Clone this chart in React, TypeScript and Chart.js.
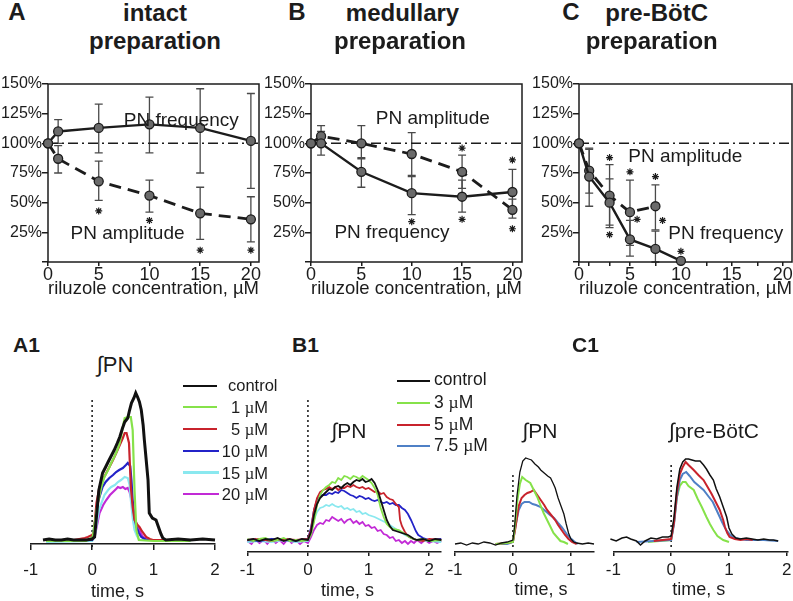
import React, { useEffect, useRef } from "react";
import { Chart, registerables } from "chart.js";
Chart.register(...registerables);

const FONT = "'Liberation Sans', Arial, Helvetica, sans-serif";
const INK = "#1c1c1c";
Chart.defaults.font.family = FONT;
Chart.defaults.color = INK;

type Pt = [number, number];

// ---------------- Dose-response data (percent of control) ----------------
const yTickValues = [0, 25, 50, 75, 100, 125, 150];

const concA = [0, 1, 5, 10, 15, 20];
const freqA = [100, 110, 113, 116, 113, 102];
const freqALo = [null, 100, 92, 92, 75, 62];
const freqAHi = [null, 120, 133, 139, 146, 142];
const ampA = [100, 87, 68, 56, 41, 36];
const ampALo = [null, 75, 52, 42, 19, 17];
const ampAHi = [null, 98, 85, 69, 63, 55];
const starsA: Pt[] = [[5, 43], [10, 35], [15, 10], [20, 10]];

const concB = [0, 1, 5, 10, 15, 20];
const freqB = [100, 100, 76, 58, 55, 59];
const freqBLo = [null, 90, 63, 40, 42, 42];
const freqBHi = [null, 110, 88, 72, 69, 78];
const ampB = [100, 106, 100, 91, 76, 44];
const ampBLo = [null, 98, 87, 73, 62, 37];
const ampBHi = [null, 115, 115, 109, 90, 53];
const starsB: Pt[] = [[10, 34], [15, 96], [15, 36], [20, 86], [20, 28]];

const concCf = [0, 1, 3, 5, 7.5, 10];
const freqC = [100, 72, 50, 19, 11, 1];
const freqCLo = [null, 47, 29, 5, 0, null];
const freqCHi = [null, 96, 70, 35, 26, null];
const concCa = [0, 1, 3, 5, 7.5];
const ampC = [100, 77, 56, 42, 47];
const ampCLo = [null, 58, 31, 14, 27];
const ampCHi = [null, 95, 82, 69, 65];
const starsC: Pt[] = [[3, 88], [3, 23], [5, 76], [5.7, 36], [7.5, 72], [8.2, 35], [10, 9]];

const xTicksAB = [0, 5, 10, 15, 20];
const xTicksC = [0, 1, 3, 5, 7.5, 10, 12.5, 15, 17.5, 20];

// ---------------- Integrated PN / pre-BötC traces (time s, a.u.) ----------------
const a1Control: Pt[] = [[-0.8,0],[-0.7,1],[-0.6,0],[-0.5,0],[-0.4,1],[-0.3,0],[-0.2,0],[-0.1,0],[0,1],[0.04,3],[0.07,23],[0.11,50],[0.17,67],[0.22,73],[0.26,78],[0.31,84],[0.36,90],[0.41,97],[0.45,103],[0.49,111],[0.53,118],[0.58,122],[0.61,130],[0.64,137],[0.68,142],[0.71,147],[0.74,143],[0.77,138],[0.8,130],[0.83,115],[0.85,100],[0.88,80],[0.91,60],[0.93,27],[0.98,22],[1.04,20],[1.08,13],[1.12,6],[1.15,2],[1.2,0],[1.4,1],[1.6,0],[1.8,1],[2.0,0],[2.1,1]];
const a1Riluzole1: Pt[] = [[-0.75,-1],[-0.4,-1],[-0.1,-1],[0.01,3],[0.08,33],[0.15,53],[0.2,63],[0.26,70],[0.31,77],[0.36,83],[0.41,90],[0.45,97],[0.49,110],[0.53,122],[0.58,123],[0.63,123],[0.66,110],[0.69,50],[0.72,10],[0.76,0],[1.0,-1],[1.6,-1]];
const a1Riluzole5: Pt[] = [[-0.75,-1],[-0.3,0],[-0.12,2],[-0.07,3],[0,5],[0.03,8],[0.07,37],[0.12,53],[0.18,61],[0.23,67],[0.29,74],[0.34,80],[0.4,88],[0.45,95],[0.5,102],[0.53,107],[0.56,107],[0.6,97],[0.63,53],[0.66,33],[0.69,20],[0.74,15],[0.77,13],[0.82,8],[0.88,3],[0.94,1],[0.99,0],[1.3,0]];
const a1Riluzole10: Pt[] = [[-0.75,-1],[0,0],[0.02,7],[0.09,37],[0.17,53],[0.22,58],[0.28,62],[0.34,65],[0.39,68],[0.44,70],[0.5,72],[0.55,75],[0.58,77],[0.62,74],[0.64,60],[0.66,40],[0.69,22],[0.72,13],[0.76,7],[0.8,3],[0.88,0],[1.3,0]];
const a1Riluzole15: Pt[] = [[-0.75,-2],[0,-1],[0.04,3],[0.11,30],[0.2,45],[0.26,50],[0.31,53],[0.37,55],[0.42,58],[0.47,60],[0.53,63],[0.58,62],[0.61,55],[0.63,40],[0.66,22],[0.69,10],[0.73,4],[0.77,0],[1.6,-1]];
const a1Riluzole20: Pt[] = [[-0.75,-1],[0,0],[0.04,3],[0.12,27],[0.18,35],[0.23,40],[0.29,45],[0.34,48],[0.39,51],[0.42,53],[0.46,52],[0.5,53],[0.54,51],[0.58,52],[0.61,48],[0.63,43],[0.66,33],[0.69,23],[0.73,15],[0.77,10],[0.8,6],[0.83,3],[0.91,0],[1.1,0]];

const b1Control: Pt[] = [[-1,0],[-0.9,1],[-0.8,-1],[-0.7,1],[-0.6,0],[-0.5,2],[-0.4,-1],[-0.3,1],[-0.2,-1],[-0.1,1],[0,0],[0.05,8],[0.1,25],[0.15,36],[0.2,42],[0.25,45],[0.3,48],[0.35,51],[0.4,50],[0.45,53],[0.5,54],[0.55,52],[0.6,55],[0.65,57],[0.7,55],[0.75,58],[0.8,60],[0.85,59],[0.9,61],[0.95,58],[1.0,59],[1.05,61],[1.1,57],[1.15,50],[1.2,40],[1.25,30],[1.3,20],[1.35,14],[1.4,10],[1.45,9],[1.5,8],[1.55,7],[1.6,6],[1.65,5],[1.7,3],[1.75,1],[1.8,0],[1.9,1],[2.0,-1],[2.1,1],[2.2,0]];
const b1Riluzole1: Pt[] = [[-1,1],[-0.9,-1],[-0.8,1],[-0.7,2],[-0.6,-1],[-0.5,0],[-0.4,2],[-0.3,-1],[-0.2,0],[-0.1,-1],[0,0],[0.05,5],[0.1,18],[0.15,35],[0.2,45],[0.25,50],[0.3,53],[0.35,55],[0.4,58],[0.45,57],[0.5,62],[0.55,60],[0.6,64],[0.65,63],[0.7,61],[0.75,64],[0.8,63],[0.85,61],[0.9,64],[0.95,62],[1.0,60],[1.05,57],[1.1,52],[1.15,45],[1.2,32],[1.25,23],[1.3,16],[1.35,13],[1.4,11],[1.5,10],[1.6,6],[1.7,2],[1.8,0],[1.9,1],[2.0,-1],[2.2,0]];
const b1Riluzole5: Pt[] = [[-1,0],[-0.8,1],[-0.6,-1],[-0.4,1],[-0.2,0],[0,1],[0.05,10],[0.1,30],[0.15,42],[0.2,48],[0.25,50],[0.3,51],[0.35,53],[0.4,51],[0.45,53],[0.5,50],[0.55,52],[0.6,52],[0.65,54],[0.7,53],[0.75,55],[0.8,53],[0.85,52],[0.9,53],[0.95,51],[1.0,52],[1.05,50],[1.1,48],[1.15,49],[1.2,46],[1.25,47],[1.3,43],[1.35,41],[1.4,40],[1.45,36],[1.5,33],[1.52,20],[1.55,14],[1.6,8],[1.65,4],[1.7,2],[1.8,0],[1.9,-1],[2.0,1],[2.2,0]];
const b1Riluzole10: Pt[] = [[-1,0],[-0.8,-1],[-0.6,1],[-0.4,0],[-0.2,-1],[0,1],[0.05,12],[0.1,30],[0.15,40],[0.2,44],[0.25,45],[0.3,45],[0.35,47],[0.4,46],[0.45,48],[0.5,47],[0.55,50],[0.6,49],[0.65,47],[0.7,45],[0.75,44],[0.8,42],[0.85,44],[0.9,43],[0.95,41],[1.0,42],[1.05,40],[1.1,39],[1.15,40],[1.2,38],[1.25,37],[1.3,38],[1.35,36],[1.4,37],[1.45,35],[1.5,35],[1.55,32],[1.6,30],[1.65,26],[1.7,20],[1.73,16],[1.78,9],[1.82,5],[1.9,2],[2.0,0],[2.2,1]];
const b1Riluzole15: Pt[] = [[-1,-2],[-0.8,-1],[-0.6,-2],[-0.4,0],[-0.2,-2],[0,-1],[0.05,8],[0.1,20],[0.15,28],[0.2,32],[0.25,33],[0.3,35],[0.35,34],[0.4,36],[0.45,34],[0.5,33],[0.55,34],[0.6,31],[0.65,32],[0.7,30],[0.75,31],[0.8,28],[0.85,29],[0.9,26],[0.95,27],[1.0,25],[1.1,23],[1.2,20],[1.3,17],[1.4,13],[1.5,9],[1.6,5],[1.7,2],[1.8,0],[2.0,-1],[2.2,-2]];
const b1Riluzole20: Pt[] = [[-1,-1],[-0.93,-4],[-0.87,1],[-0.8,-3],[-0.73,0],[-0.67,-4],[-0.6,1],[-0.53,-3],[-0.47,0],[-0.4,-4],[-0.33,1],[-0.27,-3],[-0.2,0],[-0.13,-4],[-0.07,-1],[0,-3],[0.05,3],[0.1,10],[0.15,15],[0.2,17],[0.25,16],[0.3,20],[0.35,19],[0.4,23],[0.45,21],[0.5,19],[0.55,21],[0.6,17],[0.65,20],[0.7,21],[0.75,17],[0.8,19],[0.85,16],[0.9,18],[0.95,14],[1.0,15],[1.05,12],[1.1,13],[1.15,9],[1.2,10],[1.25,6],[1.3,5],[1.35,2],[1.4,3],[1.45,-1],[1.5,0],[1.55,-3],[1.6,-1],[1.65,-4],[1.7,-1],[1.75,-3],[1.8,0],[1.87,-3],[1.93,0],[2.0,-3],[2.07,-1],[2.13,-3],[2.2,-1]];

const c1PnControl: Pt[] = [[-1.0,0],[-0.9,1],[-0.8,-1],[-0.7,1],[-0.6,0],[-0.5,2],[-0.4,1],[-0.3,-1],[-0.2,1],[-0.1,2],[0,4],[0.03,18],[0.07,48],[0.12,72],[0.17,83],[0.22,86],[0.27,85],[0.32,84],[0.38,80],[0.44,77],[0.48,74],[0.54,71],[0.6,68],[0.65,66],[0.7,60],[0.73,56],[0.78,46],[0.83,38],[0.88,30],[0.92,20],[0.96,11],[1.0,5],[1.05,2],[1.1,1],[1.2,0],[1.3,1],[1.4,0]];
const c1PnRiluzole3: Pt[] = [[-0.3,0],[-0.1,1],[0,2],[0.03,15],[0.08,45],[0.12,60],[0.16,67],[0.22,64],[0.3,61],[0.36,54],[0.42,47],[0.48,38],[0.53,31],[0.59,24],[0.65,17],[0.7,11],[0.76,7],[0.82,3],[0.88,2],[0.95,0]];
const c1PnRiluzole5: Pt[] = [[-0.3,0],[-0.1,1],[0,2],[0.04,15],[0.1,38],[0.15,46],[0.2,49],[0.25,51],[0.3,52],[0.36,54],[0.42,49],[0.48,44],[0.54,39],[0.59,34],[0.66,29],[0.73,24],[0.78,19],[0.84,14],[0.9,9],[0.96,5],[1.02,2],[1.1,0]];
const c1PnRiluzole75: Pt[] = [[-0.3,0],[-0.1,0],[0,2],[0.05,20],[0.1,34],[0.15,40],[0.2,42],[0.28,42],[0.34,40],[0.4,39],[0.48,37],[0.56,33],[0.64,29],[0.71,26],[0.78,21],[0.84,17],[0.88,14],[0.94,9],[0.99,6],[1.05,3],[1.12,0]];

const c1PbcControl: Pt[] = [[-1.15,2],[-1.05,3],[-0.95,1],[-0.85,4],[-0.77,5],[-0.7,3],[-0.6,1],[-0.53,-3],[-0.45,1],[-0.35,4],[-0.25,3],[-0.15,5],[-0.05,5],[0,6],[0.05,25],[0.1,55],[0.15,73],[0.2,80],[0.25,83],[0.3,83],[0.36,82],[0.42,81],[0.5,81],[0.56,77],[0.61,73],[0.67,67],[0.73,62],[0.78,53],[0.84,45],[0.9,35],[0.96,25],[1.0,14],[1.05,8],[1.12,4],[1.19,3],[1.3,4],[1.4,3],[1.5,2],[1.6,3],[1.7,2],[1.77,2],[1.85,1]];
const c1PbcRiluzole3: Pt[] = [[-0.4,0],[-0.2,1],[0,2],[0.05,20],[0.1,45],[0.15,56],[0.2,60],[0.25,60],[0.3,56],[0.39,52],[0.46,43],[0.53,35],[0.61,25],[0.67,18],[0.73,12],[0.8,6],[0.9,2],[1.0,0]];
const c1PbcRiluzole5: Pt[] = [[-0.3,1],[0,3],[0.05,20],[0.1,50],[0.15,68],[0.2,75],[0.25,80],[0.3,77],[0.39,72],[0.47,67],[0.56,62],[0.63,55],[0.7,48],[0.77,40],[0.84,32],[0.9,22],[0.93,15],[0.97,9],[1.01,5],[1.1,3],[1.2,2],[1.3,3],[1.41,2]];
const c1PbcRiluzole75: Pt[] = [[-0.6,0],[-0.3,1],[0,2],[0.05,18],[0.1,45],[0.15,62],[0.2,68],[0.26,70],[0.32,66],[0.4,60],[0.48,56],[0.56,52],[0.64,46],[0.72,40],[0.8,30],[0.88,20],[0.95,12],[1.02,7],[1.1,4],[1.3,2],[1.6,2],[1.85,1]];

const timeTicks = [-1, 0, 1, 2];

const a1Labels = ["control", "1", "5", "10", "15", "20"];
const c1Labels = ["control", "3", "5", "7.5"];

const COL = {
  black: "#111111",
  lime: "#86e24a",
  red: "#c8232c",
  blue: "#2323c8",
  cyan: "#8ae8ef",
  magenta: "#c22ad6",
  steel: "#4f80c6",
};
const a1Colors = [COL.black, COL.lime, COL.red, COL.blue, COL.cyan, COL.magenta];
const c1Colors = [COL.black, COL.lime, COL.red, COL.steel];

// ---------------- plugins ----------------
const errorBars = {
  id: "errorBars",
  beforeDatasetsDraw(chart: any) {
    const { ctx } = chart;
    const xs = chart.scales.x;
    const ys = chart.scales.y;
    chart.data.datasets.forEach((ds: any) => {
      if (!ds.errLo) return;
      ctx.save();
      ctx.strokeStyle = "#4a4a4a";
      ctx.lineWidth = 1.3;
      ds.data.forEach((p: any, i: number) => {
        const lo = ds.errLo[i];
        const hi = ds.errHi[i];
        if (lo == null || hi == null) return;
        const px = xs.getPixelForValue(p.x);
        const y1 = ys.getPixelForValue(lo);
        const y2 = ys.getPixelForValue(hi);
        ctx.beginPath();
        ctx.moveTo(px, y1);
        ctx.lineTo(px, y2);
        ctx.moveTo(px - 4, y1);
        ctx.lineTo(px + 4, y1);
        ctx.moveTo(px - 4, y2);
        ctx.lineTo(px + 4, y2);
        ctx.stroke();
      });
      ctx.restore();
    });
  },
};

const frame = {
  id: "frame",
  beforeDatasetsDraw(chart: any) {
    const { ctx, chartArea } = chart;
    ctx.save();
    ctx.strokeStyle = INK;
    ctx.lineWidth = 1.5;
    ctx.strokeRect(chartArea.left, chartArea.top, chartArea.right - chartArea.left, chartArea.bottom - chartArea.top);
    ctx.restore();
  },
};

const toXY = (xs: number[], ys: number[]) => xs.map((x, i) => ({ x, y: ys[i] }));
const fromPts = (p: Pt[]) => p.map(([x, y]) => ({ x, y }));

function doseConfig(o: any) {
  return {
    type: "scatter",
    data: {
      datasets: [
        {
          label: "PN frequency",
          data: toXY(o.fx, o.f),
          errLo: o.fLo,
          errHi: o.fHi,
          showLine: true,
          borderColor: INK,
          borderWidth: 2.4,
          pointRadius: 4.5,
          pointBackgroundColor: "#6a6a6a",
          pointBorderColor: INK,
          pointBorderWidth: 1.3,
          clip: false,
        },
        {
          label: "PN amplitude",
          data: toXY(o.ax, o.a),
          errLo: o.aLo,
          errHi: o.aHi,
          showLine: true,
          borderColor: INK,
          borderWidth: 2.8,
          borderDash: [12, 7],
          pointRadius: 4.5,
          pointBackgroundColor: "#6a6a6a",
          pointBorderColor: INK,
          pointBorderWidth: 1.3,
          clip: false,
        },
        {
          label: "control level",
          data: [{ x: 0, y: 100 }, { x: o.xMax, y: 100 }],
          showLine: true,
          borderColor: INK,
          borderWidth: 1.5,
          borderDash: [10, 4, 2, 4],
          pointRadius: 0,
        },
        {
          label: "significant",
          data: fromPts(o.stars),
          showLine: false,
          pointStyle: "star",
          pointRadius: 3.5,
          pointBorderColor: INK,
          pointBorderWidth: 1.2,
          clip: false,
        },
      ],
    },
    options: {
      animation: false,
      responsive: false,
      devicePixelRatio: 1,
      layout: { padding: { top: 14, right: o.padR, left: 0, bottom: 0 } },
      plugins: { legend: { display: false }, tooltip: { enabled: false } },
      scales: {
        x: {
          type: "linear",
          min: 0,
          max: o.xMax,
          afterBuildTicks: (s: any) => {
            s.ticks = o.xTicks.map((value: number) => ({ value }));
          },
          ticks: {
            callback: (v: any) => (Number(v) % 5 === 0 ? String(v) : ""),
            font: { size: 18 },
            color: INK,
            padding: -2,
            maxRotation: 0,
            autoSkip: false,
          },
          grid: { drawOnChartArea: false, drawTicks: true, tickLength: 4, color: INK, lineWidth: 1.5 },
          border: { display: false },
          title: { display: true, text: "riluzole concentration, \u00B5M", font: { size: 19, lineHeight: 1 }, color: INK, padding: 0 },
          afterFit: (s: any) => {
            s.height = 36;
          },
        },
        y: {
          type: "linear",
          min: 0,
          max: 150,
          afterBuildTicks: (s: any) => {
            s.ticks = yTickValues.map((value) => ({ value }));
          },
          ticks: {
            callback: (v: any) => (Number(v) === 0 ? "" : v + "%"),
            font: { size: 16 },
            color: INK,
            padding: 0,
          },
          grid: { drawOnChartArea: false, drawTicks: true, tickLength: 6, color: INK, lineWidth: 1.5 },
          border: { display: false },
          afterFit: (s: any) => {
            s.width = o.yW;
          },
        },
      },
    },
    plugins: [errorBars, frame],
  };
}

function traceConfig(o: any) {
  const sets = o.traces.map((t: any) => ({
    label: t.label,
    data: fromPts(t.pts),
    showLine: true,
    borderColor: t.color,
    borderWidth: t.width,
    pointRadius: 0,
    tension: 0,
    clip: false,
  }));
  sets.push({
    label: "onset",
    data: [{ x: 0, y: o.dot[0] }, { x: 0, y: o.dot[1] }],
    showLine: true,
    borderColor: "#222",
    borderWidth: 1.6,
    borderDash: [2, 3],
    pointRadius: 0,
    clip: false,
  });
  return {
    type: "scatter",
    data: { datasets: sets },
    options: {
      animation: false,
      responsive: false,
      devicePixelRatio: 1,
      layout: { padding: { top: o.padT, right: o.padR, left: o.padL, bottom: 0 } },
      plugins: { legend: { display: false }, tooltip: { enabled: false } },
      scales: {
        x: {
          type: "linear",
          min: -1,
          max: o.xMax,
          afterBuildTicks: (s: any) => {
            s.ticks = timeTicks.filter((v) => v <= o.xMax + 1e-6).map((value) => ({ value }));
          },
          ticks: { font: { size: 17 }, color: INK, padding: o.tickPad, maxRotation: 0, autoSkip: false },
          grid: { drawOnChartArea: false, drawTicks: true, tickLength: o.tickLen, color: INK, lineWidth: 1.5 },
          border: { display: true, color: INK, width: 1.5 },
          afterFit: (s: any) => {
            s.height = o.axisH;
          },
        },
        y: { type: "linear", display: false, min: o.yMin, max: o.yMax },
      },
    },
  };
}

// ---------------- components ----------------
function ChartCanvas({ x, y, w, h, make }: { x: number; y: number; w: number; h: number; make: () => any }) {
  const ref = useRef<HTMLCanvasElement>(null);
  useEffect(() => {
    const c = new Chart(ref.current as HTMLCanvasElement, make());
    return () => c.destroy();
  }, []);
  return <canvas ref={ref} width={w} height={h} style={{ position: "absolute", left: x, top: y, width: w, height: h }} />;
}

function T({ x, base, size, bold, align = "center", children, family }: any) {
  const shift = align === "center" ? "-50%" : align === "right" ? "-100%" : "0";
  return (
    <div
      style={{
        position: "absolute",
        left: x,
        top: base - 0.8465 * size,
        fontSize: size,
        lineHeight: `${size}px`,
        fontWeight: bold ? 700 : 400,
        whiteSpace: "nowrap",
        transform: `translateX(${shift})`,
        fontFamily: family ?? FONT,
        color: INK,
      }}
    >
      {children}
    </div>
  );
}

function Seg({ x1, x2, y, color, w }: any) {
  return <div style={{ position: "absolute", left: x1, top: y - w / 2, width: x2 - x1, height: w, background: color }} />;
}

const Mu = () => <span style={{ fontFamily: "'Liberation Serif', 'Times New Roman', serif" }}>{"\u00B5"}</span>;

export default function App() {
  const a1Traces = [
    { label: "control", pts: a1Control, color: COL.black, width: 3 },
    { label: "1 µM", pts: a1Riluzole1, color: COL.lime, width: 2.2 },
    { label: "5 µM", pts: a1Riluzole5, color: COL.red, width: 2.2 },
    { label: "10 µM", pts: a1Riluzole10, color: COL.blue, width: 2.2 },
    { label: "15 µM", pts: a1Riluzole15, color: COL.cyan, width: 2.2 },
    { label: "20 µM", pts: a1Riluzole20, color: COL.magenta, width: 2.2 },
  ];
  const b1Traces = [
    { label: "control", pts: b1Control, color: COL.black, width: 1.8 },
    { label: "1 µM", pts: b1Riluzole1, color: COL.lime, width: 1.8 },
    { label: "5 µM", pts: b1Riluzole5, color: COL.red, width: 1.8 },
    { label: "10 µM", pts: b1Riluzole10, color: COL.blue, width: 1.8 },
    { label: "15 µM", pts: b1Riluzole15, color: COL.cyan, width: 1.8 },
    { label: "20 µM", pts: b1Riluzole20, color: COL.magenta, width: 1.8 },
  ];
  const c1PnTraces = [
    { label: "control", pts: c1PnControl, color: COL.black, width: 1.3 },
    { label: "3 µM", pts: c1PnRiluzole3, color: COL.lime, width: 2 },
    { label: "5 µM", pts: c1PnRiluzole5, color: COL.red, width: 2 },
    { label: "7.5 µM", pts: c1PnRiluzole75, color: COL.steel, width: 2 },
  ];
  const c1PbcTraces = [
    { label: "control", pts: c1PbcControl, color: COL.black, width: 1.5 },
    { label: "5 µM", pts: c1PbcRiluzole5, color: COL.red, width: 2 },
    { label: "7.5 µM", pts: c1PbcRiluzole75, color: COL.steel, width: 2 },
    { label: "3 µM", pts: c1PbcRiluzole3, color: COL.lime, width: 2 },
  ];

  const a1LegendY = [386, 407, 429, 451, 472.5, 494];
  const c1LegendY = [381, 403, 425, 446];

  return (
    <div style={{ position: "absolute", left: 0, top: 0, width: 793, height: 601, overflow: "hidden", background: "#fff", fontFamily: FONT }}>
      {/* Top dose-response panels */}
      <ChartCanvas x={0} y={70} w={270} h={228} make={() => doseConfig({ fx: concA, f: freqA, fLo: freqALo, fHi: freqAHi, ax: concA, a: ampA, aLo: ampALo, aHi: ampAHi, stars: starsA, xMax: 20.8, xTicks: xTicksAB, yW: 48, padR: 11 })} />
      <ChartCanvas x={262} y={70} w={268} h={228} make={() => doseConfig({ fx: concB, f: freqB, fLo: freqBLo, fHi: freqBHi, ax: concB, a: ampB, aLo: ampBLo, aHi: ampBHi, stars: starsB, xMax: 20.95, xTicks: xTicksAB, yW: 49, padR: 8 })} />
      <ChartCanvas x={528} y={70} w={275} h={228} make={() => doseConfig({ fx: concCf, f: freqC, fLo: freqCLo, fHi: freqCHi, ax: concCa, a: ampC, aLo: ampCLo, aHi: ampCHi, stars: starsC, xMax: 20.9, xTicks: xTicksC, yW: 51, padR: 11 })} />

      {/* Bottom trace panels */}
      <ChartCanvas x={6} y={380} w={234} h={220} make={() => traceConfig({ traces: a1Traces, xMax: 2, yMin: -4, yMax: 150, padT: 10, padL: 24.7, padR: 25, axisH: 56, tickLen: 6, tickPad: 10, dot: [-7, 143] })} />
      <ChartCanvas x={222} y={380} w={239} h={220} make={() => traceConfig({ traces: b1Traces, xMax: 2.19, yMin: -12, yMax: 150, padT: 10, padL: 25.3, padR: 20.3, axisH: 48, tickLen: 4, tickPad: 4, dot: [-7, 143] })} />
      <ChartCanvas x={430} y={380} w={184} h={220} make={() => traceConfig({ traces: c1PnTraces, xMax: 1.4, yMin: -8, yMax: 154, padT: 10, padL: 25, padR: 20, axisH: 48, tickLen: 4, tickPad: 4, dot: [-3, 72] })} />
      <ChartCanvas x={590} y={380} w={218} h={220} make={() => traceConfig({ traces: c1PbcTraces, xMax: 2.02, yMin: -10, yMax: 152, padT: 10, padL: 23.3, padR: 20, axisH: 48, tickLen: 4, tickPad: 4, dot: [-5, 80] })} />

      {/* Panel headings */}
      <T x={17} base={20} size={24} bold>A</T>
      <T x={155} base={21.7} size={24} bold>intact</T>
      <T x={155} base={49} size={24} bold>preparation</T>
      <T x={297} base={20} size={24} bold>B</T>
      <T x={402.5} base={21.7} size={24} bold>medullary</T>
      <T x={400} base={49} size={24} bold>preparation</T>
      <T x={571} base={20} size={24} bold>C</T>
      <T x={656.7} base={21.7} size={24} bold>pre-BötC</T>
      <T x={651.7} base={49} size={24} bold>preparation</T>

      {/* In-plot annotations, top */}
      <T x={181.3} base={126} size={19}>PN frequency</T>
      <T x={127.5} base={239} size={19}>PN amplitude</T>
      <T x={432.8} base={124.3} size={19}>PN amplitude</T>
      <T x={392} base={238.3} size={19}>PN frequency</T>
      <T x={685.3} base={161.7} size={19}>PN amplitude</T>
      <T x={725.8} base={239} size={19}>PN frequency</T>

      {/* Bottom panel labels */}
      <T x={26.5} base={352} size={21} bold>A1</T>
      <T x={305.5} base={352} size={21} bold>B1</T>
      <T x={585.5} base={352} size={21} bold>C1</T>
      <T x={115} base={373} size={22}>∫PN</T>
      <T x={349} base={438} size={21}>∫PN</T>
      <T x={540} base={438} size={21}>∫PN</T>
      <T x={714} base={438} size={21}>∫pre-BötC</T>

      {/* time axis titles */}
      <T x={117.5} base={597} size={18}>time, s</T>
      <T x={347.5} base={596} size={18}>time, s</T>
      <T x={541} base={595} size={18}>time, s</T>
      <T x={698.7} base={595} size={18}>time, s</T>

      {/* A1 legend */}
      {a1Labels.map((lab, i) => (
        <React.Fragment key={"a1" + i}>
          <Seg x1={182.7} x2={i >= 3 ? 219.5 : 217.3} y={a1LegendY[i]} color={a1Colors[i]} w={2.2} />
          {i === 0 ? (
            <T x={228} base={a1LegendY[i] + 5} size={16.5} align="left">{lab}</T>
          ) : (
            <T x={268} base={a1LegendY[i] + 6} size={16.5} align="right">{lab} <Mu />M</T>
          )}
        </React.Fragment>
      ))}

      {/* C1 legend */}
      {c1Labels.map((lab, i) => (
        <React.Fragment key={"c1" + i}>
          <Seg x1={396.7} x2={430} y={c1LegendY[i]} color={c1Colors[i]} w={1.6} />
          {i === 0 ? (
            <T x={434} base={c1LegendY[i] + 5} size={17.5} align="left">{lab}</T>
          ) : (
            <T x={434} base={c1LegendY[i] + 6} size={17.5} align="left">{lab} <Mu />M</T>
          )}
        </React.Fragment>
      ))}
    </div>
  );
}
